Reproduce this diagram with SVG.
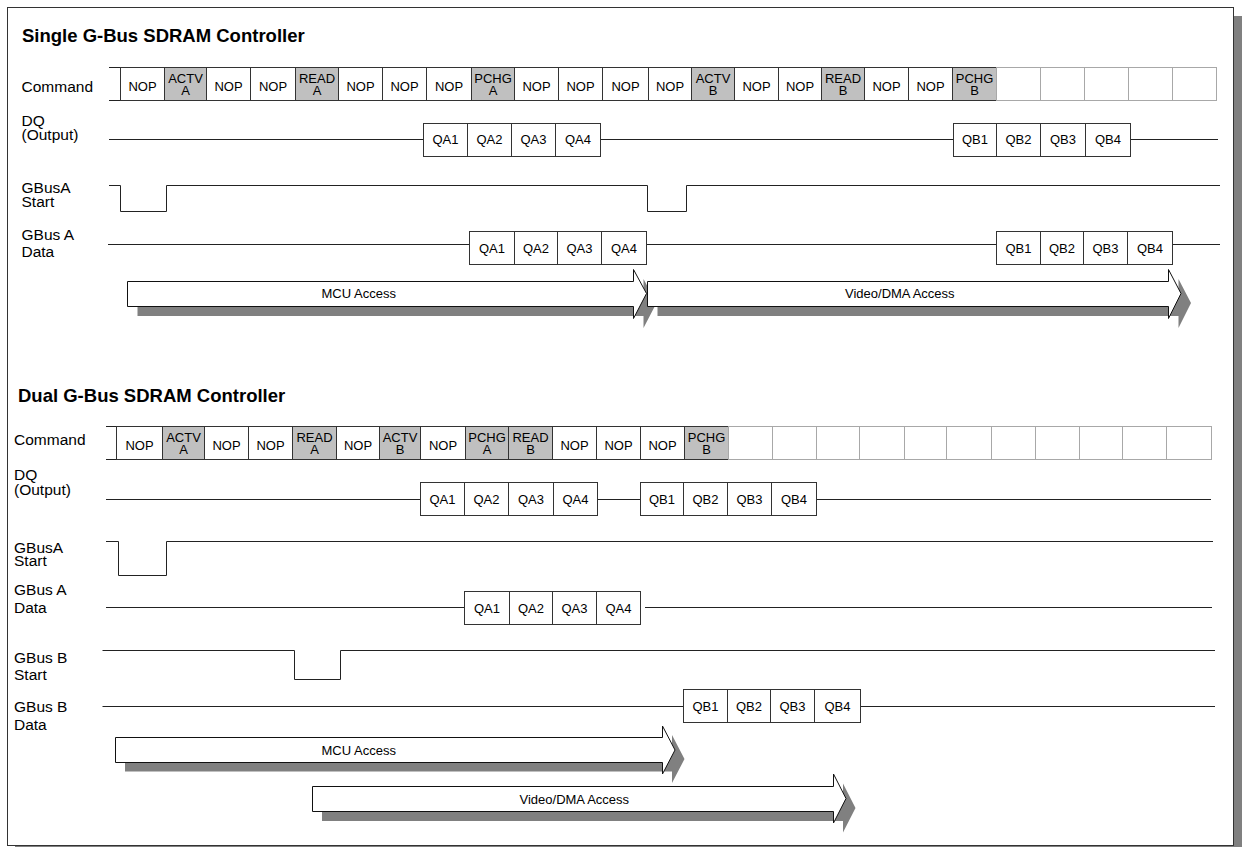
<svg xmlns="http://www.w3.org/2000/svg" width="1242" height="847" viewBox="0 0 1242 847">
<style>
.ttl{font-family:"Liberation Sans",Arial,sans-serif;font-size:18.5px;font-weight:bold;fill:#000}
.lbl{font-family:"Liberation Sans",Arial,sans-serif;font-size:15.5px;fill:#000}
.ct{font-family:"Liberation Sans",Arial,sans-serif;font-size:13px;fill:#000;text-anchor:middle}
.at{font-family:"Liberation Sans",Arial,sans-serif;font-size:13px;fill:#000}
.c{fill:#fff;stroke:#333;stroke-width:1}
.g{fill:#c0c0c0;stroke:#333;stroke-width:1}
.e{fill:#fff;stroke:#a8a8a8;stroke-width:1}
.q{fill:#fff;stroke:#333;stroke-width:1}
.sig{fill:none;stroke:#222;stroke-width:1}
.arr{fill:#fff;stroke:#111;stroke-width:1}
.sh{fill:#808080;stroke:none}
</style>
<rect x="15" y="16" width="1227" height="839" fill="#808080"/>
<rect x="7.5" y="7.5" width="1226" height="838" fill="#fff" stroke="#333" stroke-width="1"/>

<text class="ttl" x="22" y="42">Single G-Bus SDRAM Controller</text>
<text class="ttl" x="18" y="401.5">Dual G-Bus SDRAM Controller</text>

<g id="labels-top">
<text class="lbl" x="21.5" y="91.5">Command</text>
<text class="lbl" x="21.5" y="126">DQ</text>
<text class="lbl" x="21.5" y="140">(Output)</text>
<text class="lbl" x="21.5" y="192.5">GBusA</text>
<text class="lbl" x="21.5" y="206.5">Start</text>
<text class="lbl" x="21.5" y="240">GBus A</text>
<text class="lbl" x="21.5" y="256.5">Data</text>
</g>
<g id="labels-bottom">
<text class="lbl" x="14" y="445">Command</text>
<text class="lbl" x="14" y="480">DQ</text>
<text class="lbl" x="14" y="495">(Output)</text>
<text class="lbl" x="14" y="553">GBusA</text>
<text class="lbl" x="14" y="566">Start</text>
<text class="lbl" x="14" y="595">GBus A</text>
<text class="lbl" x="14" y="612.5">Data</text>
<text class="lbl" x="14" y="663">GBus B</text>
<text class="lbl" x="14" y="680">Start</text>
<text class="lbl" x="14" y="711.5">GBus B</text>
<text class="lbl" x="14" y="730">Data</text>
</g>

<g id="cmd-top">
<path class="sig" d="M109 67.5H120.5M109 100.5H120.5"/>
<rect class="c" x="120.5" y="67.5" width="44" height="33"/><text class="ct" x="142.5" y="90.5">NOP</text>
<rect class="g" x="164.5" y="67.5" width="42" height="33"/><text class="ct" x="185.5" y="83">ACTV</text><text class="ct" x="185.5" y="95">A</text>
<rect class="c" x="206.5" y="67.5" width="44" height="33"/><text class="ct" x="228.5" y="90.5">NOP</text>
<rect class="c" x="250.5" y="67.5" width="45" height="33"/><text class="ct" x="273" y="90.5">NOP</text>
<rect class="g" x="295.5" y="67.5" width="43" height="33"/><text class="ct" x="317" y="83">READ</text><text class="ct" x="317" y="95">A</text>
<rect class="c" x="338.5" y="67.5" width="44" height="33"/><text class="ct" x="360.5" y="90.5">NOP</text>
<rect class="c" x="382.5" y="67.5" width="44" height="33"/><text class="ct" x="404.5" y="90.5">NOP</text>
<rect class="c" x="426.5" y="67.5" width="45" height="33"/><text class="ct" x="449" y="90.5">NOP</text>
<rect class="g" x="471.5" y="67.5" width="43" height="33"/><text class="ct" x="493" y="83">PCHG</text><text class="ct" x="493" y="95">A</text>
<rect class="c" x="514.5" y="67.5" width="44" height="33"/><text class="ct" x="536.5" y="90.5">NOP</text>
<rect class="c" x="558.5" y="67.5" width="44" height="33"/><text class="ct" x="580.5" y="90.5">NOP</text>
<rect class="c" x="602.5" y="67.5" width="46" height="33"/><text class="ct" x="625.5" y="90.5">NOP</text>
<rect class="c" x="648.5" y="67.5" width="43" height="33"/><text class="ct" x="670" y="90.5">NOP</text>
<rect class="g" x="691.5" y="67.5" width="43" height="33"/><text class="ct" x="713" y="83">ACTV</text><text class="ct" x="713" y="95">B</text>
<rect class="c" x="734.5" y="67.5" width="44" height="33"/><text class="ct" x="756.5" y="90.5">NOP</text>
<rect class="c" x="778.5" y="67.5" width="43" height="33"/><text class="ct" x="800" y="90.5">NOP</text>
<rect class="g" x="821.5" y="67.5" width="43" height="33"/><text class="ct" x="843" y="83">READ</text><text class="ct" x="843" y="95">B</text>
<rect class="c" x="864.5" y="67.5" width="44" height="33"/><text class="ct" x="886.5" y="90.5">NOP</text>
<rect class="c" x="908.5" y="67.5" width="44" height="33"/><text class="ct" x="930.5" y="90.5">NOP</text>
<rect class="g" x="952.5" y="67.5" width="44" height="33"/><text class="ct" x="974.5" y="83">PCHG</text><text class="ct" x="974.5" y="95">B</text>
<rect class="e" x="996.5" y="67.5" width="44" height="33"/>
<rect class="e" x="1040.5" y="67.5" width="44" height="33"/>
<rect class="e" x="1084.5" y="67.5" width="44" height="33"/>
<rect class="e" x="1128.5" y="67.5" width="44" height="33"/>
<rect class="e" x="1172.5" y="67.5" width="44" height="33"/>
</g>

<g id="cmd-bottom">
<path class="sig" d="M106 426.5H116.5M106 459.5H116.5"/>
<rect class="c" x="116.5" y="426.5" width="46" height="33"/><text class="ct" x="139.5" y="449.5">NOP</text>
<rect class="g" x="162.5" y="426.5" width="42" height="33"/><text class="ct" x="183.5" y="441.5">ACTV</text><text class="ct" x="183.5" y="453.5">A</text>
<rect class="c" x="204.5" y="426.5" width="44" height="33"/><text class="ct" x="226.5" y="449.5">NOP</text>
<rect class="c" x="248.5" y="426.5" width="44" height="33"/><text class="ct" x="270.5" y="449.5">NOP</text>
<rect class="g" x="292.5" y="426.5" width="44" height="33"/><text class="ct" x="314.5" y="441.5">READ</text><text class="ct" x="314.5" y="453.5">A</text>
<rect class="c" x="336.5" y="426.5" width="43" height="33"/><text class="ct" x="358" y="449.5">NOP</text>
<rect class="g" x="379.5" y="426.5" width="41" height="33"/><text class="ct" x="400" y="441.5">ACTV</text><text class="ct" x="400" y="453.5">B</text>
<rect class="c" x="420.5" y="426.5" width="45" height="33"/><text class="ct" x="443" y="449.5">NOP</text>
<rect class="g" x="465.5" y="426.5" width="43" height="33"/><text class="ct" x="487" y="441.5">PCHG</text><text class="ct" x="487" y="453.5">A</text>
<rect class="g" x="508.5" y="426.5" width="44" height="33"/><text class="ct" x="530.5" y="441.5">READ</text><text class="ct" x="530.5" y="453.5">B</text>
<rect class="c" x="552.5" y="426.5" width="44" height="33"/><text class="ct" x="574.5" y="449.5">NOP</text>
<rect class="c" x="596.5" y="426.5" width="44" height="33"/><text class="ct" x="618.5" y="449.5">NOP</text>
<rect class="c" x="640.5" y="426.5" width="44" height="33"/><text class="ct" x="662.5" y="449.5">NOP</text>
<rect class="g" x="684.5" y="426.5" width="44" height="33"/><text class="ct" x="706.5" y="441.5">PCHG</text><text class="ct" x="706.5" y="453.5">B</text>
<rect class="e" x="728.5" y="426.5" width="44" height="33"/>
<rect class="e" x="772.5" y="426.5" width="44" height="33"/>
<rect class="e" x="816.5" y="426.5" width="43" height="33"/>
<rect class="e" x="859.5" y="426.5" width="45" height="33"/>
<rect class="e" x="904.5" y="426.5" width="42" height="33"/>
<rect class="e" x="946.5" y="426.5" width="45" height="33"/>
<rect class="e" x="991.5" y="426.5" width="44" height="33"/>
<rect class="e" x="1035.5" y="426.5" width="44" height="33"/>
<rect class="e" x="1079.5" y="426.5" width="43" height="33"/>
<rect class="e" x="1122.5" y="426.5" width="44" height="33"/>
<rect class="e" x="1166.5" y="426.5" width="45" height="33"/>
</g>

<g id="connectors">
<path class="sig" d="M109 139.5H423.5M600.5 139.5H953.5M1130.5 139.5H1218"/>
<path class="sig" d="M109 185.5H120.5V211.5H166.5V185.5H647.5V211.5H686.5V185.5H1220"/>
<path class="sig" d="M108 244.5H469.5M646.5 244.5H996.5M1172.5 244.5H1220"/>
<path class="sig" d="M106 499.5H420.5M597.5 499.5H640.5M816.5 499.5H1211"/>
<path class="sig" d="M106 541.5H118.5V575.5H166.5V541.5H1213"/>
<path class="sig" d="M106 607.5H464.5M645 607.5H1212"/>
<path class="sig" d="M102.5 650.5H294.5V679.5H340.5V650.5H1215"/>
<path class="sig" d="M102.5 706.5H683.5M860.5 706.5H1215"/>
</g>

<g id="dq-top">
<rect class="q" x="423.5" y="123.5" width="44" height="33"/><text class="ct" x="445.5" y="144">QA1</text>
<rect class="q" x="467.5" y="123.5" width="44" height="33"/><text class="ct" x="489.5" y="144">QA2</text>
<rect class="q" x="511.5" y="123.5" width="44" height="33"/><text class="ct" x="533.5" y="144">QA3</text>
<rect class="q" x="555.5" y="123.5" width="45" height="33"/><text class="ct" x="578" y="144">QA4</text>
<rect class="q" x="953.5" y="123.5" width="43" height="33"/><text class="ct" x="975" y="144">QB1</text>
<rect class="q" x="996.5" y="123.5" width="44" height="33"/><text class="ct" x="1018.5" y="144">QB2</text>
<rect class="q" x="1040.5" y="123.5" width="45" height="33"/><text class="ct" x="1063" y="144">QB3</text>
<rect class="q" x="1085.5" y="123.5" width="45" height="33"/><text class="ct" x="1108" y="144">QB4</text>
</g>
<g id="adata-top">
<rect class="q" x="469.5" y="231.5" width="45" height="33"/><text class="ct" x="492" y="252.5">QA1</text>
<rect class="q" x="514.5" y="231.5" width="43" height="33"/><text class="ct" x="536" y="252.5">QA2</text>
<rect class="q" x="557.5" y="231.5" width="44" height="33"/><text class="ct" x="579.5" y="252.5">QA3</text>
<rect class="q" x="601.5" y="231.5" width="45" height="33"/><text class="ct" x="624" y="252.5">QA4</text>
<rect class="q" x="996.5" y="231.5" width="44" height="33"/><text class="ct" x="1018.5" y="252.5">QB1</text>
<rect class="q" x="1040.5" y="231.5" width="43" height="33"/><text class="ct" x="1062" y="252.5">QB2</text>
<rect class="q" x="1083.5" y="231.5" width="44" height="33"/><text class="ct" x="1105.5" y="252.5">QB3</text>
<rect class="q" x="1127.5" y="231.5" width="45" height="33"/><text class="ct" x="1150" y="252.5">QB4</text>
</g>

<g id="dq-bottom">
<rect class="q" x="420.5" y="482.5" width="44" height="33"/><text class="ct" x="442.5" y="503.5">QA1</text>
<rect class="q" x="464.5" y="482.5" width="44" height="33"/><text class="ct" x="486.5" y="503.5">QA2</text>
<rect class="q" x="508.5" y="482.5" width="45" height="33"/><text class="ct" x="531" y="503.5">QA3</text>
<rect class="q" x="553.5" y="482.5" width="44" height="33"/><text class="ct" x="575.5" y="503.5">QA4</text>
<rect class="q" x="640.5" y="482.5" width="43" height="33"/><text class="ct" x="662" y="503.5">QB1</text>
<rect class="q" x="683.5" y="482.5" width="44" height="33"/><text class="ct" x="705.5" y="503.5">QB2</text>
<rect class="q" x="727.5" y="482.5" width="44" height="33"/><text class="ct" x="749.5" y="503.5">QB3</text>
<rect class="q" x="771.5" y="482.5" width="45" height="33"/><text class="ct" x="794" y="503.5">QB4</text>
</g>
<g id="adata-bottom">
<rect class="q" x="464.5" y="591.5" width="45" height="33"/><text class="ct" x="487" y="612.5">QA1</text>
<rect class="q" x="509.5" y="591.5" width="43" height="33"/><text class="ct" x="531" y="612.5">QA2</text>
<rect class="q" x="552.5" y="591.5" width="44" height="33"/><text class="ct" x="574.5" y="612.5">QA3</text>
<rect class="q" x="596.5" y="591.5" width="44" height="33"/><text class="ct" x="618.5" y="612.5">QA4</text>
</g>
<g id="bdata-bottom">
<rect class="q" x="683.5" y="689.5" width="44" height="33"/><text class="ct" x="705.5" y="710.5">QB1</text>
<rect class="q" x="727.5" y="689.5" width="43" height="33"/><text class="ct" x="749" y="710.5">QB2</text>
<rect class="q" x="770.5" y="689.5" width="44" height="33"/><text class="ct" x="792.5" y="710.5">QB3</text>
<rect class="q" x="814.5" y="689.5" width="46" height="33"/><text class="ct" x="837.5" y="710.5">QB4</text>
</g>

<g id="mcu-top">
<path class="sh" transform="translate(10 9.5)" d="M127.5 281.5H633.5V269.5L646.5 293.5L633.5 318.5V306.5H127.5Z"/>
<path class="arr" d="M127.5 281.5H633.5V269.5L646.5 293.5L633.5 318.5V306.5H127.5Z"/>
<text class="at" x="321.5" y="298">MCU Access</text>
</g>
<g id="video-top">
<path class="sh" transform="translate(10 9.5)" d="M647.5 281.5H1168.5V269.5L1181 293.5L1168.5 318.5V306.5H647.5Z"/>
<path class="arr" d="M647.5 281.5H1168.5V269.5L1181 293.5L1168.5 318.5V306.5H647.5Z"/>
<text class="at" x="845" y="297.5">Video/DMA Access</text>
</g>
<g id="mcu-bottom">
<path class="sh" transform="translate(9.5 9)" d="M115.5 737.5H662.5V726L675 750L662.5 774V762.5H115.5Z"/>
<path class="arr" d="M115.5 737.5H662.5V726L675 750L662.5 774V762.5H115.5Z"/>
<text class="at" x="321.5" y="755">MCU Access</text>
</g>
<g id="video-bottom">
<path class="sh" transform="translate(9.5 9.5)" d="M312.5 786.5H833.5V774L846 798.5L833.5 823V811.5H312.5Z"/>
<path class="arr" d="M312.5 786.5H833.5V774L846 798.5L833.5 823V811.5H312.5Z"/>
<text class="at" x="519.5" y="803.5">Video/DMA Access</text>
</g>
</svg>
